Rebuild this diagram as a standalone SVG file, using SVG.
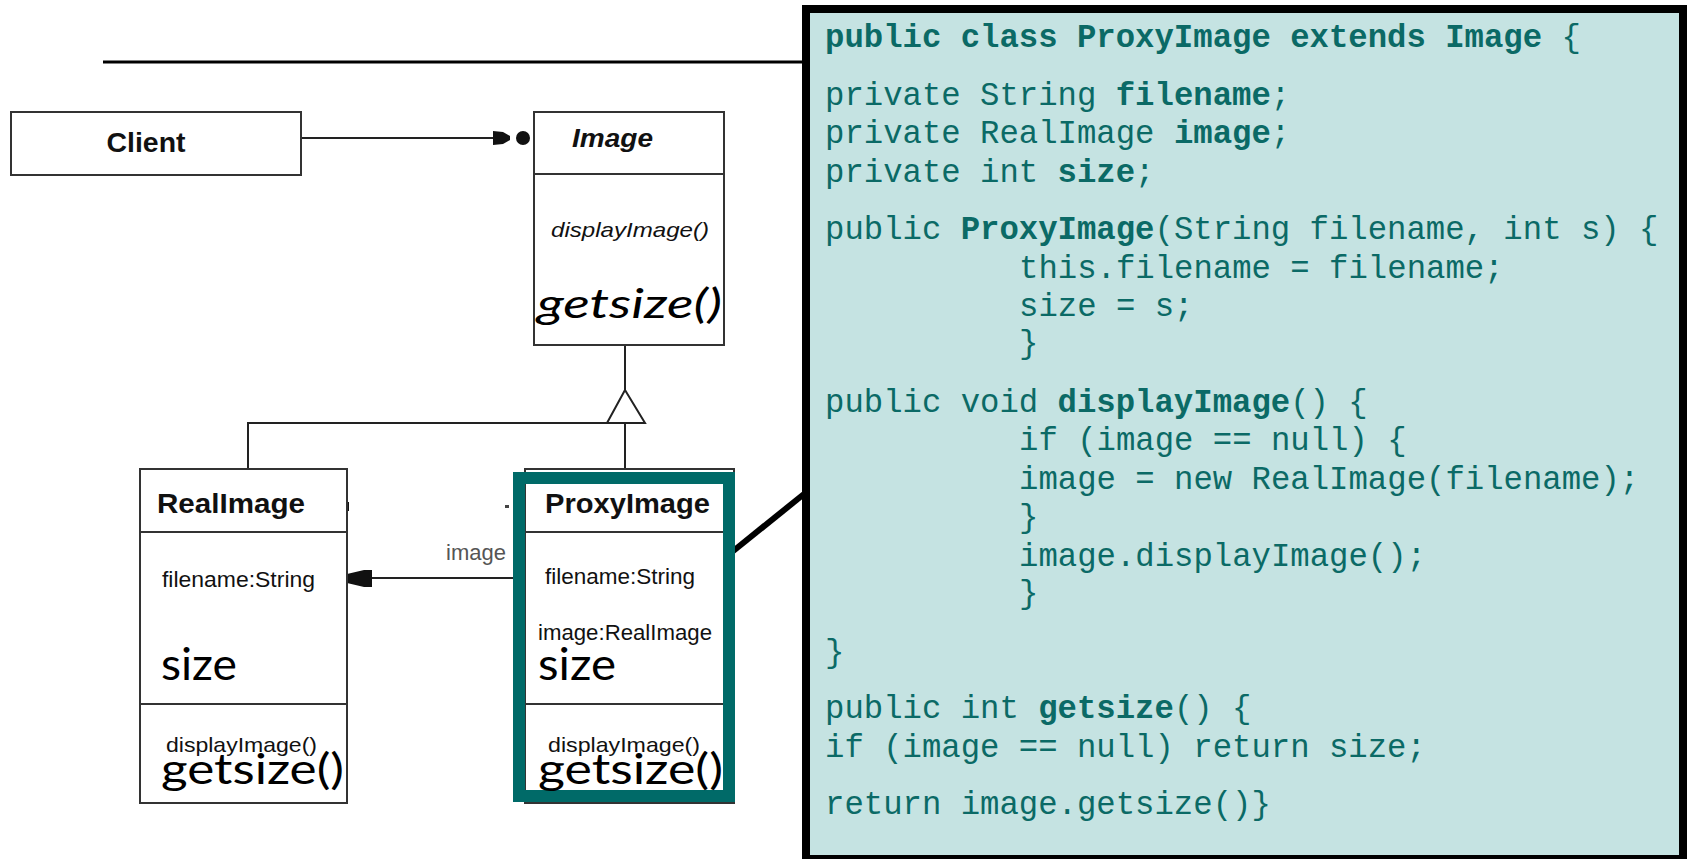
<svg xmlns="http://www.w3.org/2000/svg" width="1687" height="859" viewBox="0 0 1687 859">
<style>
.box{fill:#fff;stroke:#333;stroke-width:2}
.div{stroke:#333;stroke-width:2}
.ln{stroke:#222;stroke-width:2;fill:none}
.t{font-family:"Liberation Sans",Arial,sans-serif;fill:#111}
.tb{font-family:"Liberation Sans",Arial,sans-serif;font-weight:bold;fill:#111}
.big{font-family:Lato,"Open Sans",sans-serif;fill:#000}
.code{font-family:"Liberation Mono","Courier New",monospace;font-size:32.3px;fill:#0b6a66}
.code .b{font-weight:bold}
</style>
<rect width="1687" height="859" fill="#fff"/>
<line x1="103" y1="62" x2="806" y2="62" stroke="#000" stroke-width="3"/>

<g id="connectors">
  <line class="ln" x1="301" y1="138" x2="494" y2="138"/>
  <polygon points="493,131 503,132 510,136 510,140 503,144 493,145" fill="#111"/>
  <circle cx="523" cy="138" r="7" fill="#111"/>
  <line class="ln" x1="625" y1="345" x2="625" y2="390"/>
  <polygon points="625,390 607,423 645,423" fill="#fff" stroke="#222" stroke-width="2"/>
  <line class="ln" x1="248" y1="423" x2="607" y2="423"/>
  <line class="ln" x1="248" y1="422" x2="248" y2="469"/>
  <line class="ln" x1="625" y1="423" x2="625" y2="470"/>
  <line class="ln" x1="513" y1="578" x2="370" y2="578"/>
  <polygon points="347,574 364,570 372,570 372,587 364,587 347,583" fill="#111"/>
  <text class="t" x="446" y="560" font-size="22" fill="#555" style="fill:#555">image</text>
  <rect x="505" y="505" width="4" height="3" fill="#444"/>
  <rect x="346" y="502" width="3" height="9" fill="#111"/>
  <line x1="732" y1="552" x2="804" y2="494" stroke="#000" stroke-width="6"/>
</g>

<g id="client">
  <rect class="box" x="11" y="112" width="290" height="63"/>
  <text class="tb" x="146" y="152" font-size="28" text-anchor="middle" textLength="79" lengthAdjust="spacingAndGlyphs">Client</text>
</g>

<g id="image">
  <rect class="box" x="534" y="112" width="190" height="233"/>
  <line class="div" x1="534" y1="174" x2="724" y2="174"/>
  <text class="tb" x="572" y="147" font-size="26" font-style="italic" textLength="81" lengthAdjust="spacingAndGlyphs">Image</text>
  <text class="t" x="551" y="237" font-size="21" font-style="italic" textLength="158" lengthAdjust="spacingAndGlyphs">displayImage()</text>
  <text class="big" x="537" y="318" font-size="41" font-style="italic" textLength="185" lengthAdjust="spacingAndGlyphs">getsize()</text>
</g>

<g id="realimage">
  <rect class="box" x="140" y="469" width="207" height="334"/>
  <line class="div" x1="140" y1="532" x2="347" y2="532"/>
  <line class="div" x1="140" y1="704" x2="347" y2="704"/>
  <text class="tb" x="157" y="513" font-size="28" textLength="148" lengthAdjust="spacingAndGlyphs">RealImage</text>
  <text class="t" x="162" y="587" font-size="22" textLength="153" lengthAdjust="spacingAndGlyphs">filename:String</text>
  <text class="big" x="161" y="680" font-size="44" textLength="76" lengthAdjust="spacingAndGlyphs">size</text>
  <text class="t" x="166" y="752" font-size="21" textLength="151" lengthAdjust="spacingAndGlyphs">displayImage()</text>
  <text class="big" x="161" y="784" font-size="42" textLength="183" lengthAdjust="spacingAndGlyphs">getsize()</text>
</g>

<g id="proxyimage">
  <rect class="box" x="525" y="469" width="209" height="334"/>
  <line class="div" x1="525" y1="532" x2="734" y2="532"/>
  <line class="div" x1="525" y1="704" x2="734" y2="704"/>
  <rect x="519" y="478" width="210" height="318" fill="none" stroke="#006a68" stroke-width="12"/>
  <text class="tb" x="545" y="513" font-size="28" textLength="165" lengthAdjust="spacingAndGlyphs">ProxyImage</text>
  <text class="t" x="545" y="584" font-size="22" textLength="150" lengthAdjust="spacingAndGlyphs">filename:String</text>
  <text class="t" x="538" y="640" font-size="22" textLength="174" lengthAdjust="spacingAndGlyphs">image:RealImage</text>
  <text class="big" x="538" y="680" font-size="44" textLength="78" lengthAdjust="spacingAndGlyphs">size</text>
  <text class="t" x="548" y="752" font-size="21" textLength="152" lengthAdjust="spacingAndGlyphs">displayImage()</text>
  <text class="big" x="538" y="784" font-size="42" textLength="185" lengthAdjust="spacingAndGlyphs">getsize()</text>
</g>

<g id="code">
  <rect x="806" y="9" width="877" height="850" fill="#c5e3e2" stroke="#000" stroke-width="8"/>
  <text class="code" x="825" y="47"><tspan class="b">public class ProxyImage extends Image</tspan> {</text>
  <text class="code" x="825" y="105">private String <tspan class="b">filename</tspan>;</text>
  <text class="code" x="825" y="143">private RealImage <tspan class="b">image</tspan>;</text>
  <text class="code" x="825" y="182">private int <tspan class="b">size</tspan>;</text>
  <text class="code" x="825" y="239">public <tspan class="b">ProxyImage</tspan>(String filename, int s) {</text>
  <text class="code" x="1019" y="278">this.filename = filename;</text>
  <text class="code" x="1019" y="316">size = s;</text>
  <text class="code" x="1019" y="353">}</text>
  <text class="code" x="825" y="412">public void <tspan class="b">displayImage</tspan>() {</text>
  <text class="code" x="1019" y="450">if (image == null) {</text>
  <text class="code" x="1019" y="489">image = new RealImage(filename);</text>
  <text class="code" x="1019" y="527">}</text>
  <text class="code" x="1019" y="566">image.displayImage();</text>
  <text class="code" x="1019" y="603">}</text>
  <text class="code" x="825" y="662">}</text>
  <text class="code" x="825" y="718">public int <tspan class="b">getsize</tspan>() {</text>
  <text class="code" x="825" y="757">if (image == null) return size;</text>
  <text class="code" x="825" y="814">return image.getsize()}</text>
</g>
</svg>
